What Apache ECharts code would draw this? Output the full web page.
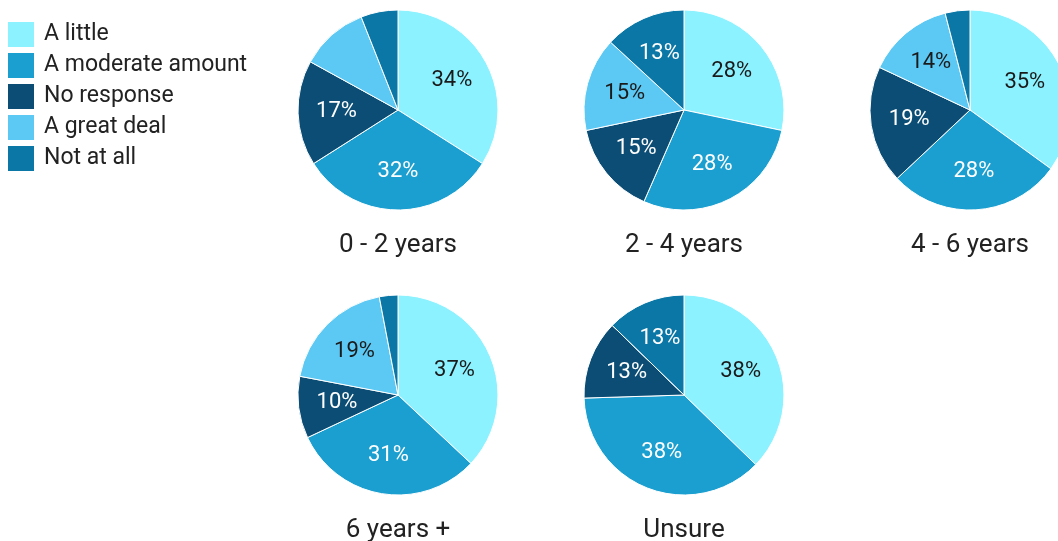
<!DOCTYPE html>
<html>
<head>
<meta charset="utf-8">
<script src="https://cdn.jsdelivr.net/npm/echarts@6/dist/echarts.min.js"></script>
<style>
html,body{margin:0;padding:0;background:#fff;}
#chart{width:1058px;height:541px;}
</style>
</head>
<body>
<div id="chart"></div>
<script>
const categories = ['A little', 'A moderate amount', 'No response', 'A great deal', 'Not at all'];
const groups = ['0 - 2 years', '2 - 4 years', '4 - 6 years', '6 years +', 'Unsure'];
const aLittle       = [34, 28, 35, 37, 38];
const aModerate     = [32, 28, 28, 31, 38];
const noResponse    = [17, 15, 19, 10, 13];
const aGreatDeal    = [11, 15, 14, 19, 0];
const notAtAll      = [6, 13, 4, 3, 13];
const seriesValues = [aLittle, aModerate, noResponse, aGreatDeal, notAtAll];
// slices whose percentage label is not printed in the reference: [groupIndex, categoryIndex]
const unlabeled = [[0, 3]];

const colors = ['#8cf2ff', '#1a9fd0', '#0b4d74', '#5cc9f4', '#0a77a6'];
const labelColors = ['#1a1a1a', '#ffffff', '#ffffff', '#1a1a1a', '#ffffff'];
const centers = [[398, 110], [684, 110], [970, 110], [398, 395], [684, 395]];
const R = 100;

const series = [];
const titles = [];
groups.forEach((g, gi) => {
  const data = categories.map((c, ci) => ({ name: c, value: seriesValues[ci][gi] }));
  series.push({
    type: 'pie', name: g, center: centers[gi], radius: [0, R],
    startAngle: 90, clockwise: true, avoidLabelOverlap: false,
    label: { show: false }, labelLine: { show: false },
    itemStyle: { borderColor: '#ffffff', borderWidth: 1 },
    emphasis: { disabled: true },
    data: data.map((d, ci) => ({ ...d, itemStyle: { color: colors[ci] } }))
  });
  series.push({
    type: 'pie', name: g + ' labels', center: centers[gi], radius: [17, R],
    startAngle: 90, clockwise: true, avoidLabelOverlap: false, silent: true,
    labelLine: { show: false },
    itemStyle: { color: 'rgba(0,0,0,0)', borderWidth: 0 },
    emphasis: { disabled: true },
    data: data.map((d, ci) => ({
      ...d,
      label: {
        show: d.value >= 8 && !unlabeled.some(u => u[0] === gi && u[1] === ci),
        position: 'inside', formatter: '{c}%',
        color: labelColors[ci], fontSize: 22, fontFamily: 'Roboto'
      }
    }))
  });
  titles.push({
    text: g, left: centers[gi][0], top: centers[gi][1] + R + 22, textAlign: 'center', padding: 0,
    textStyle: { fontSize: 26, fontWeight: 'normal', color: '#222', fontFamily: 'Roboto' }
  });
});

const chart = echarts.init(document.getElementById('chart'), null, { renderer: 'canvas' });
chart.setOption({
  animation: false,
  color: colors,
  title: titles,
  legend: {
    orient: 'vertical', left: 6, top: 20, padding: 0,
    itemWidth: 28, itemHeight: 27, itemGap: 2,
    icon: 'rect',
    data: categories,
    textStyle: { fontSize: 23, color: '#222', fontFamily: 'Roboto', padding: [0, 0, 0, 4] }
  },
  series: series
});
</script>
</body>
</html>
